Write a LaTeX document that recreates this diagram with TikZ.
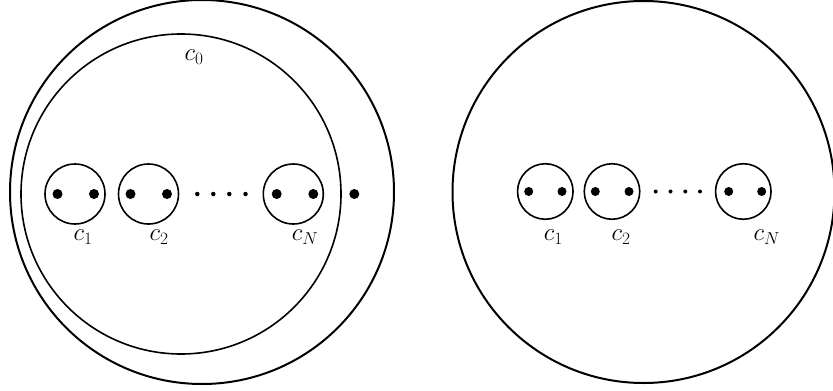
\documentclass[tikz,border=0pt]{standalone}
\begin{document}
\begin{tikzpicture}[x=1pt,y=-1pt,
  bigring/.style={circle,draw,line width=2pt,inner sep=0pt},
  ring/.style={circle,draw,line width=1.6pt,inner sep=0pt},
  puncture/.style={circle,fill,inner sep=0pt,minimum size=10pt},
  smalldot/.style={circle,fill,inner sep=0pt,minimum size=4.5pt},
  lbl/.style={inner sep=0pt,font=\fontsize{26}{30}\selectfont}]
\useasboundingbox (0,0) rectangle (833,391);
% left picture
\node[bigring,minimum size=384pt] (L) at (202,192) {};
\node[ring,minimum size=320pt] (Lc0) at (181,194) {};
\node[lbl] (Ll0) at (194,57) {$c_0$};
\node[ring,minimum size=60pt] (La1) at (75,194) {};
\node[ring,minimum size=60pt] (La2) at (148.5,194) {};
\node[ring,minimum size=60pt] (LaN) at (293.3,194) {};
\node[puncture] (Lp1a) at (57.5,194) {};
\node[puncture] (Lp1b) at (94,194) {};
\node[puncture] (Lp2a) at (130.5,194) {};
\node[puncture] (Lp2b) at (167,194) {};
\node[puncture] (LpNa) at (276.7,194) {};
\node[puncture] (LpNb) at (313.3,194) {};
\node[puncture] (Lpx) at (354.3,194) {};
\node[smalldot] (Ld1) at (197.3,194) {};
\node[smalldot] (Ld2) at (213.3,194) {};
\node[smalldot] (Ld3) at (229.3,194) {};
\node[smalldot] (Ld4) at (245.5,194) {};
\node[lbl] (Ll1) at (83,237) {$c_1$};
\node[lbl] (Ll2) at (159,237) {$c_2$};
\node[lbl] (LlN) at (305,237) {$c_N$};
% right picture
\node[bigring,minimum size=382pt] (R) at (643.5,192) {};
\node[ring,minimum size=55.5pt] (Ra1) at (545.3,191.5) {};
\node[ring,minimum size=55.5pt] (Ra2) at (612,191.5) {};
\node[ring,minimum size=55.5pt] (RaN) at (743.3,191.5) {};
\node[puncture,minimum size=9pt] (Rp1a) at (528.7,191.5) {};
\node[puncture,minimum size=9pt] (Rp1b) at (562,191.5) {};
\node[puncture,minimum size=9pt] (Rp2a) at (595.3,191.5) {};
\node[puncture,minimum size=9pt] (Rp2b) at (629,191.5) {};
\node[puncture,minimum size=9pt] (RpNa) at (728.7,191.5) {};
\node[puncture,minimum size=9pt] (RpNb) at (761.7,191.5) {};
\node[smalldot,minimum size=4pt] (Rd1) at (655.7,191.5) {};
\node[smalldot,minimum size=4pt] (Rd2) at (670.5,191.5) {};
\node[smalldot,minimum size=4pt] (Rd3) at (685.3,191.5) {};
\node[smalldot,minimum size=4pt] (Rd4) at (700,191.5) {};
\node[lbl] (Rl1) at (553.3,237) {$c_1$};
\node[lbl] (Rl2) at (621,237) {$c_2$};
\node[lbl] (RlN) at (766.7,237) {$c_N$};
\end{tikzpicture}
\end{document}
